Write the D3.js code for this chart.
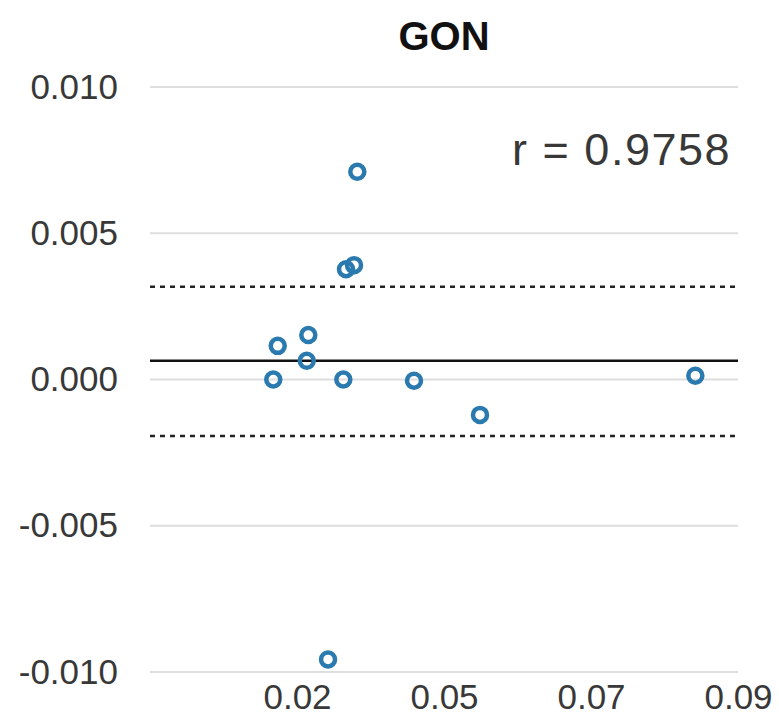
<!DOCTYPE html>
<html>
<head>
<meta charset="utf-8">
<script src="https://cdn.jsdelivr.net/npm/d3@7"></script>
<style>
  body { margin: 0; background: #fff; }
  svg { display: block; font-family: "Liberation Sans", Arial, sans-serif; }
</style>
</head>
<body>
<svg id="chart" width="779" height="720"></svg>
<script>
// data
const title = "GON";
const rLabel = "r = 0.9758";
const meanVals = [0.01887, 0.01955, 0.02423, 0.02399, 0.02959, 0.0300, 0.03123, 0.03173, 0.02725, 0.04041, 0.05051, 0.08347];
const diffVals = [0.0, 0.00115, 0.00152, 0.00064, 0.0, 0.00377, 0.00391, 0.00710, -0.00957, -0.00004, -0.00121, 0.00013];
const biasLine = 0.00064;
const limitLines = [0.00317, -0.00193];
const xTicks = [0.0225, 0.045, 0.0675, 0.09];
const xTickLabels = ["0.02", "0.05", "0.07", "0.09"];
const yTicks = [-0.010, -0.005, 0.000, 0.005, 0.010];
const yTickLabels = ["-0.010", "-0.005", "0.000", "0.005", "0.010"];

const canvas = d3.select("#chart");
const pLeft = 150, pRight = 738, pTop = 87, pBottom = 672;

const xScale = d3.scaleLinear().domain([0, 0.09]).range([pLeft, pRight]);
const yScale = d3.scaleLinear().domain([-0.010, 0.010]).range([pBottom, pTop]);

// grid lines
canvas.append("g")
  .selectAll("line")
  .data(yTicks)
  .enter()
  .append("line")
  .attr("x1", pLeft)
  .attr("x2", pRight)
  .attr("y1", d => yScale(d))
  .attr("y2", d => yScale(d))
  .attr("stroke", "#dedede")
  .attr("stroke-width", 2);

// y axis labels
const yAxis = d3.axisLeft(yScale).tickValues(yTicks).tickSize(0).tickPadding(32)
  .tickFormat((d, i) => yTickLabels[i]);
const gy = canvas.append("g")
  .attr("transform", "translate(" + pLeft + ",0)")
  .call(yAxis);
gy.select(".domain").remove();
gy.selectAll("text")
  .attr("font-size", 35)
  .attr("fill", "#383838")
  .attr("font-family", "Liberation Sans, Arial, sans-serif");

// x axis labels
const xAxis = d3.axisBottom(xScale).tickValues(xTicks).tickSize(0).tickPadding(12)
  .tickFormat((d, i) => xTickLabels[i]);
const gx = canvas.append("g")
  .attr("transform", "translate(0," + pBottom + ")")
  .call(xAxis);
gx.select(".domain").remove();
gx.selectAll("text")
  .attr("font-size", 35)
  .attr("fill", "#383838")
  .attr("font-family", "Liberation Sans, Arial, sans-serif");

// limits of agreement
canvas.append("g")
  .selectAll("line")
  .data(limitLines)
  .enter()
  .append("line")
  .attr("x1", pLeft)
  .attr("x2", pRight)
  .attr("y1", d => yScale(d))
  .attr("y2", d => yScale(d))
  .attr("stroke", "#222")
  .attr("stroke-width", 2.5)
  .attr("stroke-dasharray", "5,5");

// bias line
canvas.append("line")
  .attr("x1", pLeft)
  .attr("x2", pRight)
  .attr("y1", yScale(biasLine))
  .attr("y2", yScale(biasLine))
  .attr("stroke", "#111")
  .attr("stroke-width", 2.5);

// points
canvas.append("g")
  .selectAll("circle")
  .data(meanVals.map((m, i) => [m, diffVals[i]]))
  .enter()
  .append("circle")
  .attr("cx", d => xScale(d[0]))
  .attr("cy", d => yScale(d[1]))
  .attr("r", 7)
  .attr("fill", "none")
  .attr("stroke", "#2a7ab0")
  .attr("stroke-width", 4.5);

// title
canvas.append("text")
  .attr("x", (pLeft + pRight) / 2)
  .attr("y", 50)
  .attr("text-anchor", "middle")
  .attr("font-size", 40)
  .attr("font-weight", "bold")
  .attr("fill", "#111")
  .text(title);

// r value
canvas.append("text")
  .attr("x", 731)
  .attr("y", 165)
  .attr("text-anchor", "end")
  .attr("font-size", 45)
  .attr("letter-spacing", 1.5)
  .attr("fill", "#383838")
  .text(rLabel);
</script>
</body>
</html>
